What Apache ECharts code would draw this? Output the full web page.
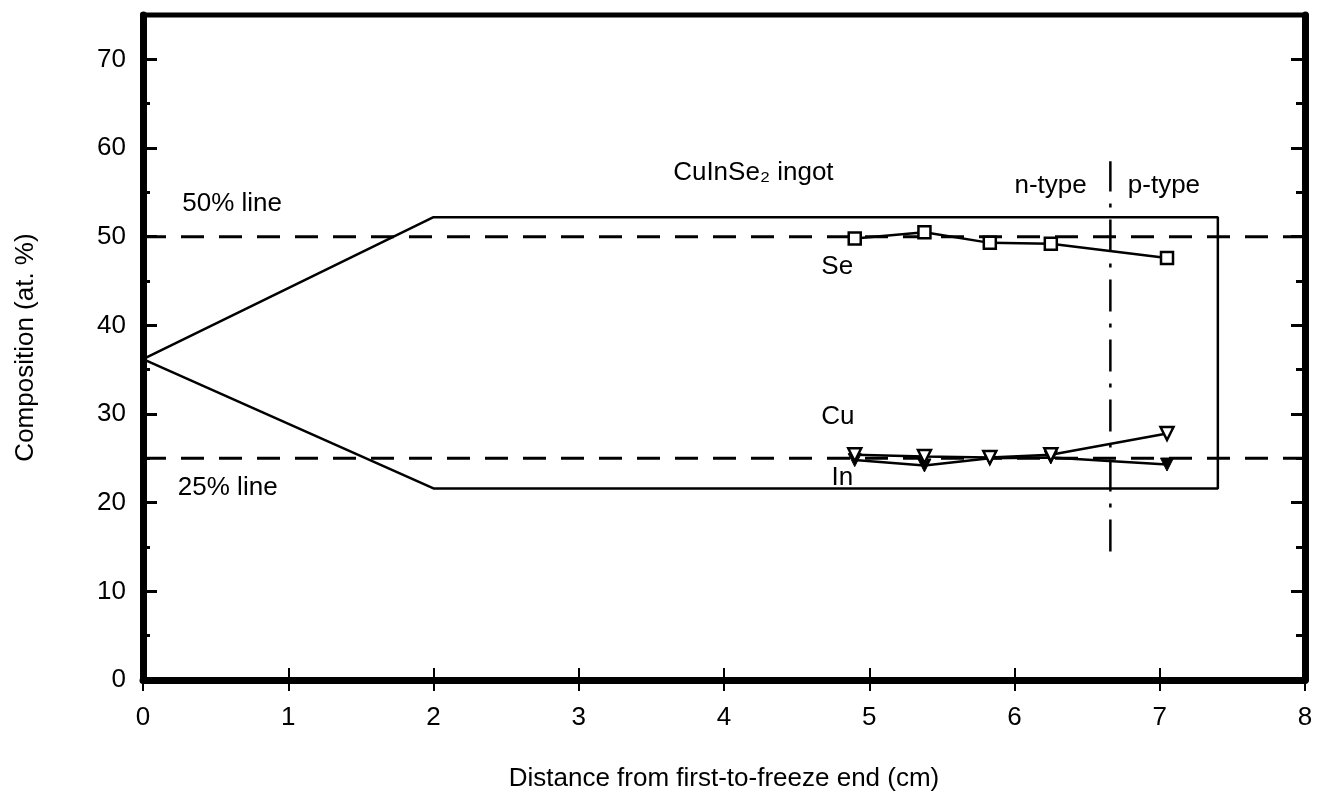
<!DOCTYPE html>
<html>
<head>
<meta charset="utf-8">
<script src="https://cdn.jsdelivr.net/npm/echarts@6/dist/echarts.min.js"></script>
<style>
  html, body { margin: 0; padding: 0; background: #fff; }
  #chart { width: 1318px; height: 801px; }
</style>
</head>
<body>
<div id="chart"></div>
<script>
// measured points along the ingot (cm from first-to-freeze end)
const distance = [4.9, 5.38, 5.83, 6.25, 7.05]
const seValues = [49.8, 50.5, 49.3, 49.2, 47.6]
const cuValues = [25.4, 25.2, 25.1, 25.4, 27.8]
const inValues = [24.8, 24.2, 25.0, 25.1, 24.3]

// ingot outline
const outlineX = [0, 2, 7.4, 7.4, 2, 0]
const outlineY = [36.2, 52.2, 52.2, 21.6, 21.6, 36.2]

// reference composition lines and n/p boundary
const refLevels = [50, 25]
const boundaryX = 6.66
const boundaryY = [14.5, 58.5]

const xTicks = [0, 1, 2, 3, 4, 5, 6, 7, 8]
const yTicks = [0, 10, 20, 30, 40, 50, 60, 70]

// text annotations [x, y, text]
const notes = [
  [0.27, 53.7, '50% line'],
  [0.24, 21.7, '25% line'],
  [3.65, 57.2, 'CuInSe₂ ingot'],
  [6.0, 55.7, 'n-type'],
  [6.78, 55.7, 'p-type'],
  [4.67, 46.6, 'Se'],
  [4.67, 29.7, 'Cu'],
  [4.74, 22.8, 'In']
]

const FONT = '"Liberation Sans", Arial, Helvetica, sans-serif'
const FS = 26
const zip = (xs, ys) => xs.map((x, i) => [x, ys[i]])

const chart = echarts.init(document.getElementById('chart'))

const yBase = {
  type: 'value', min: 0, max: 75,
  splitLine: { show: false }
}
const xBase = {
  type: 'value', min: 0, max: 8, interval: 1,
  splitLine: { show: false }
}

const markerLine = { color: '#000', width: 2.5 }

const option = {
  animation: false,
  backgroundColor: '#fff',
  textStyle: { fontFamily: FONT, color: '#000' },
  grid: {
    left: 143, right: 13, top: 15, bottom: 121,
    show: true, borderColor: '#000', borderWidth: 5, backgroundColor: 'transparent'
  },
  xAxis: [
    Object.assign({}, xBase, {
      position: 'bottom',
      name: 'Distance from first-to-freeze end (cm)',
      nameLocation: 'middle',
      nameGap: 86,
      nameTextStyle: { fontSize: FS, fontFamily: FONT, color: '#000' },
      axisLine: { lineStyle: { color: '#000', width: 5 } },
      axisTick: { inside: true, length: 12, lineStyle: { color: '#000', width: 2 } },
      axisLabel: { fontSize: FS, fontFamily: FONT, color: '#000', margin: 25, customValues: xTicks }
    }),
    Object.assign({}, xBase, {
      position: 'top',
      axisLine: { lineStyle: { color: '#000', width: 7 } },
      axisTick: { inside: true, length: 11, lineStyle: { color: '#000', width: 2 } },
      axisLabel: { show: false }
    })
  ],
  yAxis: [
    Object.assign({}, yBase, {
      position: 'left', interval: 10,
      name: 'Composition (at. %)',
      nameLocation: 'middle',
      nameGap: 104,
      nameTextStyle: { fontSize: FS, fontFamily: FONT, color: '#000' },
      axisLine: { lineStyle: { color: '#000', width: 7 } },
      axisTick: { inside: true, length: 14, customValues: yTicks, lineStyle: { color: '#000', width: 3 } },
      axisLabel: { fontSize: FS, fontFamily: FONT, color: '#000', margin: 17, customValues: yTicks }
    }),
    Object.assign({}, yBase, {
      position: 'left', interval: 5,
      axisLine: { show: false },
      axisTick: { inside: true, length: 7, lineStyle: { color: '#000', width: 3 } },
      axisLabel: { show: false }
    }),
    Object.assign({}, yBase, {
      position: 'right', interval: 10,
      axisLine: { lineStyle: { color: '#000', width: 7 } },
      axisTick: { inside: true, length: 14, customValues: yTicks, lineStyle: { color: '#000', width: 3 } },
      axisLabel: { show: false }
    }),
    Object.assign({}, yBase, {
      position: 'right', interval: 5,
      axisLine: { show: false },
      axisTick: { inside: true, length: 9, lineStyle: { color: '#000', width: 3 } },
      axisLabel: { show: false }
    })
  ],
  series: [
    {
      name: 'outline', type: 'line', symbol: 'none',
      data: zip(outlineX, outlineY),
      lineStyle: { color: '#000', width: 2.5 }
    },
    ...refLevels.map(level => ({
      name: level + '% line', type: 'line', symbol: 'none',
      data: [[xTicks[0], level], [xTicks[xTicks.length - 1], level]],
      lineStyle: { color: '#000', width: 3, type: [23, 15] }
    })),
    {
      name: 'boundary', type: 'line', symbol: 'none',
      data: [[boundaryX, boundaryY[0]], [boundaryX, boundaryY[1]]],
      lineStyle: { color: '#000', width: 2.5, type: [32, 12, 4, 12] }
    },
    {
      name: 'Se', type: 'line', symbol: 'rect', symbolSize: 12,
      data: zip(distance, seValues),
      lineStyle: markerLine,
      itemStyle: { color: '#fff', borderColor: '#000', borderWidth: 2.5 }
    },
    {
      name: 'In', type: 'line', symbol: 'triangle', symbolRotate: 180, symbolSize: 13,
      data: zip(distance, inValues),
      lineStyle: markerLine,
      itemStyle: { color: '#000', borderColor: '#000', borderWidth: 1 }
    },
    {
      name: 'Cu', type: 'line', symbol: 'triangle', symbolRotate: 180, symbolSize: 13,
      data: zip(distance, cuValues),
      lineStyle: markerLine,
      itemStyle: { color: '#fff', borderColor: '#000', borderWidth: 2.5 }
    },
    {
      name: 'notes', type: 'scatter', symbolSize: 0, silent: true,
      itemStyle: { opacity: 1 },
      data: notes.map(n => ({ value: [n[0], n[1]], name: n[2] })),
      label: {
        show: true, position: 'right', distance: 0, formatter: '{b}',
        fontSize: FS, fontFamily: FONT, color: '#000', opacity: 1
      }
    }
  ]
}

chart.setOption(option)
</script>
</body>
</html>
